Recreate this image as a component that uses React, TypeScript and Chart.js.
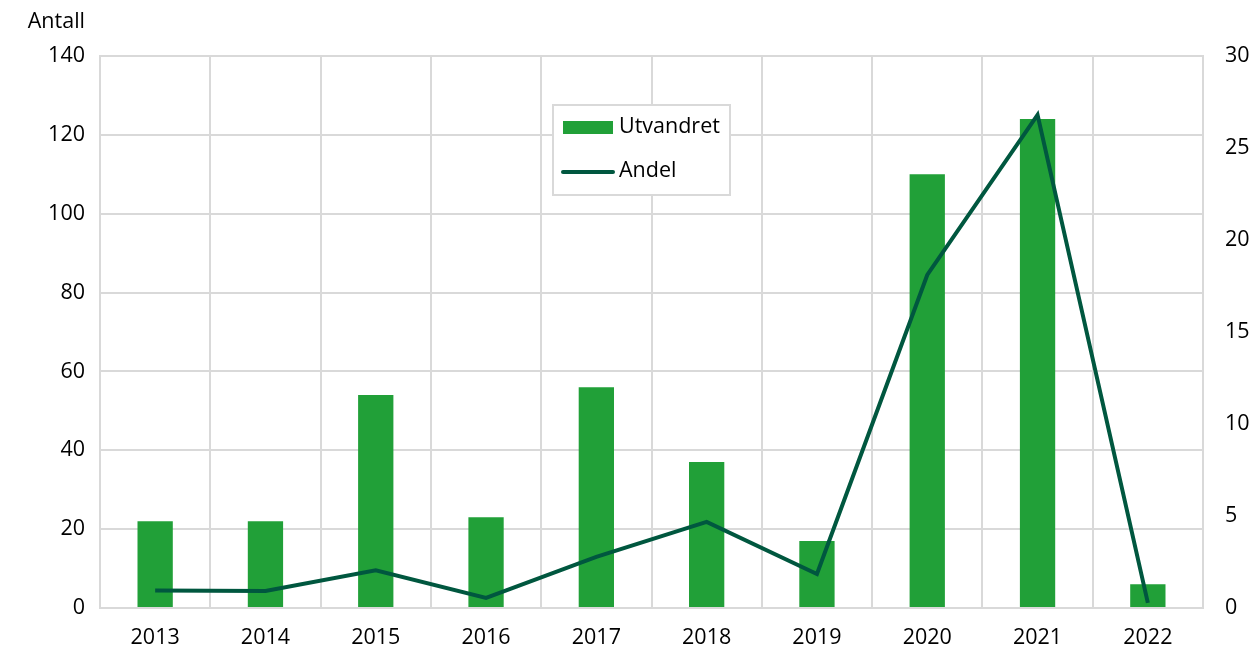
import React, { useEffect, useRef } from "react";
import { Chart, registerables } from "chart.js";

Chart.register(...registerables);

const years = ["2013", "2014", "2015", "2016", "2017", "2018", "2019", "2020", "2021", "2022"];
const utvandret = [22, 22, 54, 23, 56, 37, 17, 110, 124, 6];
const andel = [0.95, 0.93, 2.05, 0.55, 2.78, 4.68, 1.85, 18.1, 26.8, 0.28];
const leftTicks = [0, 20, 40, 60, 80, 100, 120, 140];
const rightTicks = [0, 5, 10, 15, 20, 25, 30];

const BAR_COLOR = "#21a038";
const LINE_COLOR = "#00573f";
const GRID = "#d9d9d9";
const FONT = "'Open Sans', sans-serif";
const FS = 21.5;

export default function App() {
  const ref = useRef<HTMLCanvasElement | null>(null);
  useEffect(() => {
    if (!ref.current) return;
    const overlay = {
      id: "overlay",
      afterDraw(chart: any) {
        const ctx = chart.ctx;
        ctx.save();
        ctx.font = `${FS}px ${FONT}`;
        ctx.fillStyle = "#000";
        ctx.textBaseline = "middle";
        ctx.textAlign = "right";
        ctx.fillText("Antall", 85, 22);
        // legend
        ctx.strokeStyle = GRID;
        ctx.lineWidth = 2;
        ctx.fillStyle = "#fff";
        ctx.fillRect(553, 105, 177, 90);
        ctx.strokeRect(553, 105, 177, 90);
        ctx.fillStyle = BAR_COLOR;
        ctx.fillRect(563, 121, 50, 13);
        ctx.strokeStyle = LINE_COLOR;
        ctx.lineWidth = 4;
        ctx.lineCap = "round";
        ctx.beginPath();
        ctx.moveTo(563, 172);
        ctx.lineTo(613, 172);
        ctx.stroke();
        ctx.fillStyle = "#000";
        ctx.textAlign = "left";
        ctx.fillText("Utvandret", 619, 127);
        ctx.fillText("Andel", 619, 171);
        ctx.restore();
      },
    };
    const chart = new Chart(ref.current, {
      type: "bar",
      data: {
        labels: years,
        datasets: [
          {
            type: "line",
            label: "Andel",
            data: andel,
            yAxisID: "y1",
            borderColor: LINE_COLOR,
            borderWidth: 4,
            pointRadius: 0,
            tension: 0,
            order: 0,
          } as any,
          {
            type: "bar",
            label: "Utvandret",
            data: utvandret,
            yAxisID: "y",
            backgroundColor: BAR_COLOR,
            barPercentage: 0.32,
            categoryPercentage: 1,
            order: 1,
          },
        ],
      },
      options: {
        animation: false,
        responsive: true,
        maintainAspectRatio: false,
        layout: { padding: { top: 56, left: 0, right: 0, bottom: 0 } },
        plugins: { legend: { display: false }, tooltip: { enabled: false } },
        scales: {
          x: {
            grid: { color: GRID, lineWidth: 2, offset: true, drawTicks: false },
            border: { color: GRID, width: 2 },
            ticks: { color: "#000", font: { family: FONT, size: FS }, padding: 17 },
            afterFit: (s: any) => { s.height = 49; },
          },
          y: {
            position: "left",
            min: 0,
            max: 140,
            afterBuildTicks: (s: any) => { s.ticks = leftTicks.map((v) => ({ value: v })); },
            grid: { color: GRID, lineWidth: 2, drawTicks: false },
            border: { color: GRID, width: 2 },
            ticks: { color: "#000", font: { family: FONT, size: FS }, padding: 15 },
            afterFit: (s: any) => { s.width = 100; },
          },
          y1: {
            position: "right",
            min: 0,
            max: 30,
            afterBuildTicks: (s: any) => { s.ticks = rightTicks.map((v) => ({ value: v })); },
            grid: { display: false, drawTicks: false },
            border: { color: GRID, width: 2 },
            ticks: { color: "#000", font: { family: FONT, size: FS }, padding: 22 },
            afterFit: (s: any) => { s.width = 52; },
          },
        },
      },
      plugins: [overlay],
    });
    return () => chart.destroy();
  }, []);
  return (
    <div style={{ position: "fixed", left: 0, top: 0, width: 1255, height: 657, background: "#fff" }}>
      <canvas ref={ref} />
    </div>
  );
}
